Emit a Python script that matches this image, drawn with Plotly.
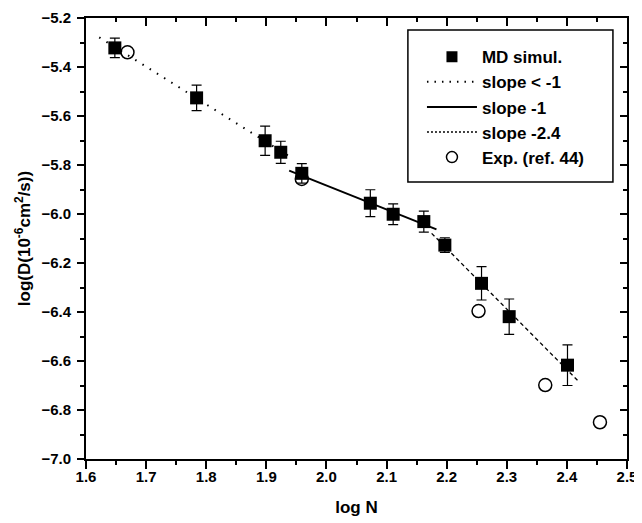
import plotly.graph_objects as go

# MD simulation data
md_x = [1.648, 1.784, 1.898, 1.924, 1.959, 2.073, 2.111, 2.162, 2.197, 2.258, 2.304, 2.401]
md_y = [-5.322, -5.526, -5.701, -5.748, -5.834, -5.956, -6.001, -6.031, -6.127, -6.283, -6.419, -6.617]
md_err = [0.040, 0.052, 0.060, 0.045, 0.040, 0.055, 0.042, 0.043, 0.030, 0.068, 0.072, 0.083]

# Experimental data (ref. 44)
exp_x = [1.669, 1.959, 2.253, 2.364, 2.455]
exp_y = [-5.340, -5.857, -6.396, -6.698, -6.850]

# fit lines
dot_x = [1.622, 1.941]
dot_y = [-5.279, -5.769]
sol_x = [1.938, 2.183]
sol_y = [-5.823, -6.063]
das_x = [2.175, 2.421]
das_y = [-6.079, -6.687]

# tick labels
x_ticks = [1.6, 1.7, 1.8, 1.9, 2.0, 2.1, 2.2, 2.3, 2.4, 2.5]
x_ticklabels = ["1.6", "1.7", "1.8", "1.9", "2.0", "2.1", "2.2", "2.3", "2.4", "2.5"]
y_ticks = [-7.0, -6.8, -6.6, -6.4, -6.2, -6.0, -5.8, -5.6, -5.4, -5.2]
y_ticklabels = ["\u22127.0", "\u22126.8", "\u22126.6", "\u22126.4", "\u22126.2",
                "\u22126.0", "\u22125.8", "\u22125.6", "\u22125.4", "\u22125.2"]

FONT = "Liberation Sans, Arial, sans-serif"

fig = go.Figure()

fig.add_trace(go.Scatter(x=dot_x, y=dot_y, mode="lines", name="slope < -1",
                         line=dict(color="black", width=2, dash="1.5px,7px"), showlegend=False))
fig.add_trace(go.Scatter(x=sol_x, y=sol_y, mode="lines", name="slope -1",
                         line=dict(color="black", width=2), showlegend=False))
fig.add_trace(go.Scatter(x=das_x, y=das_y, mode="lines", name="slope -2.4",
                         line=dict(color="black", width=1.3, dash="4px,3px"), showlegend=False))

# error bars
fig.add_trace(go.Scatter(x=md_x, y=md_y, mode="markers", showlegend=False,
                         marker=dict(size=1, color="rgba(0,0,0,0)"),
                         error_y=dict(type="data", array=md_err, visible=True,
                                      color="black", thickness=1.2, width=5)))
fig.add_trace(go.Scatter(x=md_x, y=md_y, mode="markers", name="MD simul.", showlegend=False,
                         marker=dict(symbol="square", size=13, color="black")))
fig.add_trace(go.Scatter(x=exp_x, y=exp_y, mode="markers", name="Exp. (ref. 44)", showlegend=False,
                         marker=dict(symbol="circle-open", size=13, color="black",
                                     line=dict(width=1.5, color="black"))))

# legend-only entries
fig.add_trace(go.Scatter(x=[None], y=[None], mode="markers", name="<b>MD simul.</b>",
                         marker=dict(symbol="square", size=11, color="black")))
fig.add_trace(go.Scatter(x=[None], y=[None], mode="lines", name="<b>slope < -1</b>",
                         line=dict(color="black", width=2, dash="1.5px,6px")))
fig.add_trace(go.Scatter(x=[None], y=[None], mode="lines", name="<b>slope -1</b>",
                         line=dict(color="black", width=2)))
fig.add_trace(go.Scatter(x=[None], y=[None], mode="lines", name="<b>slope -2.4</b>",
                         line=dict(color="black", width=1.3, dash="2px,2px")))
fig.add_trace(go.Scatter(x=[None], y=[None], mode="markers", name="<b>Exp. (ref. 44)</b>",
                         marker=dict(symbol="circle-open", size=11, color="black",
                                     line=dict(width=1.5, color="black"))))

# dummy trace for secondary (mirror-tick) axes
fig.add_trace(go.Scatter(x=[None], y=[None], xaxis="x2", yaxis="y2", showlegend=False))

tickfont = dict(family=FONT, size=15, color="black")
titlefont = dict(family=FONT, size=17, color="black")

fig.update_layout(
    width=634, height=515,
    margin=dict(l=78, r=15, t=10, b=64, autoexpand=False),
    paper_bgcolor="white", plot_bgcolor="white",
    xaxis=dict(range=[1.6, 2.5], tickvals=x_ticks, ticktext=["<b>%s</b>" % t for t in x_ticklabels],
               showgrid=False, zeroline=False, showline=True, linecolor="black", linewidth=2,
               mirror=True, ticks="outside", ticklen=8, tickwidth=1.5, tickcolor="black",
               minor=dict(dtick=0.05, tick0=1.6, ticks="outside", ticklen=4, tickwidth=1.5, tickcolor="black", showgrid=False),
               tickfont=tickfont, automargin=False, ticklabelstandoff=-5,
               title=dict(text="<b>log N</b>", font=titlefont, standoff=17)),
    yaxis=dict(range=[-7.0, -5.2], tickvals=y_ticks, ticktext=["<b>%s</b>" % t for t in y_ticklabels],
               showgrid=False, zeroline=False, showline=True, linecolor="black", linewidth=2,
               mirror=True, ticks="outside", ticklen=7, tickwidth=1.5, tickcolor="black",
               minor=dict(dtick=0.1, tick0=-7.0, ticks="outside", ticklen=4, tickwidth=1.5, tickcolor="black", showgrid=False),
               tickfont=tickfont, automargin=False, ticklabelstandoff=3,
               title=dict(text="<b>log(D(10<sup>-6</sup>cm<sup>2</sup>/s))</b>", font=titlefont, standoff=6)),
    xaxis2=dict(range=[1.6, 2.5], dtick=0.1, tick0=1.6, overlaying="x", side="top",
                showgrid=False, zeroline=False, showline=False, showticklabels=False, automargin=False,
                ticks="inside", ticklen=8, tickwidth=1.5, tickcolor="black",
                minor=dict(dtick=0.05, ticks="inside", ticklen=4, tickwidth=1.5, tickcolor="black", showgrid=False)),
    yaxis2=dict(range=[-7.0, -5.2], dtick=0.2, tick0=-7.0, overlaying="y", side="right",
                showgrid=False, zeroline=False, showline=False, showticklabels=False, automargin=False,
                ticks="inside", ticklen=7, tickwidth=1.5, tickcolor="black",
                minor=dict(dtick=0.1, ticks="inside", ticklen=4, tickwidth=1.5, tickcolor="black", showgrid=False)),
    legend=dict(x=0.621, y=0.952, xanchor="left", yanchor="top",
                bgcolor="rgba(0,0,0,0)", borderwidth=0,
                font=dict(family=FONT, size=17, color="black"),
                itemwidth=50, tracegroupgap=0),
    shapes=[dict(type="rect", xref="paper", yref="paper", x0=0.595, x1=0.974, y0=0.628, y1=0.973,
                 line=dict(color="black", width=1.5), fillcolor="white", layer="below")],
    showlegend=True,
)

fig.write_html("out.html")
